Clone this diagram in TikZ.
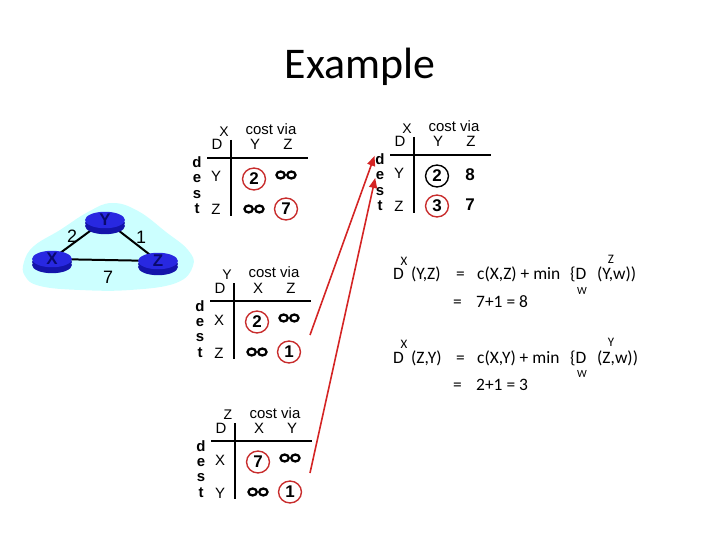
\documentclass[tikz,border=0pt]{standalone}
\usepackage{fontspec}
\setmainfont{Liberation Sans}
\newfontfamily\slidefont{Carlito}
\usetikzlibrary{arrows.meta, positioning, calc, shapes.geometric, backgrounds}
\definecolor{cloudcyan}{RGB}{204,255,255}
\definecolor{routertop}{RGB}{40,40,225}
\definecolor{routerside}{RGB}{20,20,170}
\definecolor{routertext}{RGB}{10,10,110}
\definecolor{circlered}{RGB}{200,45,45}
\definecolor{arrowred}{RGB}{212,36,36}
\newcommand{\infsym}{\tikz[baseline=-0.5ex]{\draw[line width=2.3pt] (-5.4pt,0) ellipse (4.2pt and 3.5pt) (5.4pt,0) ellipse (4.2pt and 3.5pt);}}
\tikzset{
  title/.style={font=\slidefont\fontsize{44}{44}\selectfont, anchor=base, inner sep=0pt},
  tabtext/.style={font=\fontsize{15}{15}\selectfont, inner sep=0pt},
  suptext/.style={font=\fontsize{14}{14}\selectfont, inner sep=0pt},
  dest/.style={font=\bfseries\fontsize{15}{15}\selectfont, anchor=base, inner sep=0pt},
  num/.style={font=\bfseries\fontsize{17}{17}\selectfont, inner sep=0pt},
  cost/.style={num, ellipse, draw=circlered, line width=1.4pt, minimum width=23pt, minimum height=22pt},
  best/.style={cost, draw=black},
  inf/.style={inner sep=0pt},
  rule/.style={line width=2pt},
  router/.style={
    ellipse, minimum width=40pt, minimum height=12pt, inner sep=0pt,
    fill=routertop, text=routertext, font=\bfseries\fontsize{17}{17}\selectfont,
    preaction={fill=routerside, transform canvas={yshift=-6pt}},
    preaction={fill=routerside, transform canvas={yshift=-3pt}}
  },
  link/.style={line width=2pt},
  weight/.style={font=\fontsize{18}{18}\selectfont, inner sep=0pt},
  eq/.style={font=\slidefont\fontsize{17.5}{17.5}\selectfont, anchor=base west, inner sep=0pt},
  eqsup/.style={font=\slidefont\fontsize{13}{13}\selectfont, inner sep=0pt},
  eqsub/.style={font=\slidefont\fontsize{11}{11}\selectfont, inner sep=0pt},
  arrow/.style={-{Triangle[length=10pt,width=8pt]}, line width=1.6pt, draw=arrowred}
}

\begin{document}
\begin{tikzpicture}[x=1bp, y=-1bp]
  \useasboundingbox (0,0) rectangle (720,540);

  \node[title] (title) at (360,79) {Example};

  % network
  \node[router] (Y) at (105,220) {Y};
  \node[router] (X) at (52,259) {X};
  \node[router] (Z) at (158,261) {Z};
  \node[weight] (wxy) at (72,236) {2};
  \node[weight] (wyz) at (141,237) {1};
  \node[weight] (wxz) at (108,277) {7};
  \begin{scope}[on background layer]
    \fill[cloudcyan] plot[smooth cycle, tension=0.7] coordinates {
      (24,262) (34,246) (60,230) (88,212) (112,203) (138,211)
      (166,232) (188,250) (193,266) (176,283) (130,290) (80,290)
      (40,286) (25,276)};
    \draw[link] (X.center) -- (Y.center);
    \draw[link] (Y.center) -- (Z.center);
    \draw[link] (X.center) -- (Z.center);
  \end{scope}

  % table of X, before
  \begin{scope}[shift={(0,0)}]
    \node[suptext] (txsup) at (224,132) {X};
    \node[tabtext, anchor=base] (txD) at (217,150) {D};
    \node[tabtext, anchor=base] (txhead) at (271,135) {cost via};
    \node[tabtext, anchor=base] (txc1) at (255,150) {Y};
    \node[tabtext, anchor=base] (txc2) at (288,150) {Z};
    \draw[rule] (231,140) -- (231,216);
    \draw[rule] (207,158) -- (308,158);
    \node[dest] (txd) at (197,168) {d};
    \node[dest] (txe) at (197,183) {e};
    \node[dest] (txs) at (197,198.5) {s};
    \node[dest] (txt) at (197,214) {t};
    \node[tabtext, anchor=base] (txr1) at (216,182) {Y};
    \node[tabtext, anchor=base] (txr2) at (216,215) {Z};
    \node[cost] (tx11) at (254,179) {2};
    \node[inf] (tx12) at (286,175) {\infsym};
    \node[inf] (tx21) at (254,209) {\infsym};
    \node[cost] (tx22) at (286,209) {7};
  \end{scope}

  % table of X, after
  \begin{scope}[shift={(183,-3)}]
    \node[suptext] (tnsup) at (224,132) {X};
    \node[tabtext, anchor=base] (tnD) at (217,150) {D};
    \node[tabtext, anchor=base] (tnhead) at (271,135) {cost via};
    \node[tabtext, anchor=base] (tnc1) at (255,150) {Y};
    \node[tabtext, anchor=base] (tnc2) at (288,150) {Z};
    \draw[rule] (231,140) -- (231,216);
    \draw[rule] (207,158) -- (308,158);
    \node[dest] (tnd) at (197,168) {d};
    \node[dest] (tne) at (197,183) {e};
    \node[dest] (tns) at (197,198.5) {s};
    \node[dest] (tnt) at (197,214) {t};
    \node[tabtext, anchor=base] (tnr1) at (216,182) {Y};
    \node[tabtext, anchor=base] (tnr2) at (216,215) {Z};
    \node[best] (tn11) at (254,179) {2};
    \node[num] (tn12) at (287,178) {8};
    \node[cost] (tn21) at (254,209) {3};
    \node[num] (tn22) at (287,208) {7};
  \end{scope}

  % table of Y
  \begin{scope}[shift={(3,143)}]
    \node[suptext] (tysup) at (224,132) {Y};
    \node[tabtext, anchor=base] (tyD) at (217,150) {D};
    \node[tabtext, anchor=base] (tyhead) at (271,135) {cost via};
    \node[tabtext, anchor=base] (tyc1) at (255,150) {X};
    \node[tabtext, anchor=base] (tyc2) at (288,150) {Z};
    \draw[rule] (231,140) -- (231,216);
    \draw[rule] (207,158) -- (308,158);
    \node[dest] (tyd) at (197,168) {d};
    \node[dest] (tye) at (197,183) {e};
    \node[dest] (tys) at (197,198.5) {s};
    \node[dest] (tyt) at (197,214) {t};
    \node[tabtext, anchor=base] (tyr1) at (216,182) {X};
    \node[tabtext, anchor=base] (tyr2) at (216,215) {Z};
    \node[cost] (ty11) at (254,179) {2};
    \node[inf] (ty12) at (286,175) {\infsym};
    \node[inf] (ty21) at (254,209) {\infsym};
    \node[cost] (ty22) at (286,209) {1};
  \end{scope}

  % table of Z
  \begin{scope}[shift={(4,283)}]
    \node[suptext] (tzsup) at (224,132) {Z};
    \node[tabtext, anchor=base] (tzD) at (217,150) {D};
    \node[tabtext, anchor=base] (tzhead) at (271,135) {cost via};
    \node[tabtext, anchor=base] (tzc1) at (255,150) {X};
    \node[tabtext, anchor=base] (tzc2) at (288,150) {Y};
    \draw[rule] (231,140) -- (231,216);
    \draw[rule] (207,158) -- (308,158);
    \node[dest] (tzd) at (197,168) {d};
    \node[dest] (tze) at (197,183) {e};
    \node[dest] (tzs) at (197,198.5) {s};
    \node[dest] (tzt) at (197,214) {t};
    \node[tabtext, anchor=base] (tzr1) at (216,182) {X};
    \node[tabtext, anchor=base] (tzr2) at (216,215) {Y};
    \node[cost] (tz11) at (254,179) {7};
    \node[inf] (tz12) at (286,175) {\infsym};
    \node[inf] (tz21) at (254,209) {\infsym};
    \node[cost] (tz22) at (286,209) {1};
  \end{scope}

  % updates sent to X
  \coordinate (fromy) at ($(ty22)+(21,-17)$);
  \coordinate (fromz) at ($(tz22)+(20,-19)$);
  \draw[arrow, shorten >=2pt] (fromy) -- (tnd.north west);
  \draw[arrow, shorten >=2pt] (fromz) -- (tne.west);

  % equations
  \node[eq] (dxy) at (393,280) {D};
  \node[eqsup] (dxysup) at (404,261) {X};
  \node[eq] (dxyarg) at (411,280) {(Y,Z)};
  \node[eq] (dxyeq) at (456,280) {=};
  \node[eq] (dxyrhs) at (477,280) {c(X,Z) + min};
  \node[eq] (dxymin) at (570,280) {\{D};
  \node[eqsub] (dxysub) at (582,291) {W};
  \node[eqsup] (dxysup2) at (611,259) {Z};
  \node[eq] (dxyarg2) at (597,280) {(Y,w))};
  \node[eq] (dxyeq2) at (453,307) {=};
  \node[eq] (dxyval) at (476,307) {7+1 = 8};

  \node[eq] (dzy) at (393,363) {D};
  \node[eqsup] (dzysup) at (404,344) {X};
  \node[eq] (dzyarg) at (411,363) {(Z,Y)};
  \node[eq] (dzyeq) at (456,363) {=};
  \node[eq] (dzyrhs) at (477,363) {c(X,Y) + min};
  \node[eq] (dzymin) at (570,363) {\{D};
  \node[eqsub] (dzysub) at (582,374) {W};
  \node[eqsup] (dzysup2) at (611,342) {Y};
  \node[eq] (dzyarg2) at (597,363) {(Z,w))};
  \node[eq] (dzyeq2) at (453,390) {=};
  \node[eq] (dzyval) at (476,390) {2+1 = 3};
\end{tikzpicture}
\end{document}
